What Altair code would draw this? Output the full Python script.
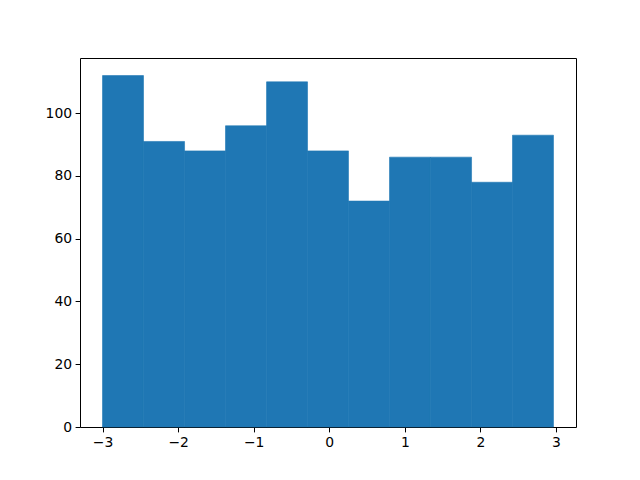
import altair as alt
import pandas as pd

bin_left = [-3.0, -2.458, -1.915, -1.373, -0.830, -0.288, 0.254, 0.797, 1.339, 1.882, 2.424]
bin_right = [-2.458, -1.915, -1.373, -0.830, -0.288, 0.254, 0.797, 1.339, 1.882, 2.424, 2.966]
counts = [112, 91, 88, 96, 110, 88, 72, 86, 86, 78, 93]

x_ticks = [-3, -2, -1, 0, 1, 2, 3]
y_ticks = [0, 20, 40, 60, 80, 100]

df = pd.DataFrame({"x": bin_left, "x2": bin_right, "count": counts})

font = "DejaVu Sans"

chart = alt.Chart(df).mark_rect(color="#1f77b4", stroke="#1f77b4", strokeWidth=0.6).encode(
    x=alt.X("x:Q",
            scale=alt.Scale(domain=[-3.298, 3.264], nice=False, zero=False),
            axis=alt.Axis(values=x_ticks, title=None, grid=False, domain=False,
                          tickColor="black", tickSize=4.9, tickWidth=1,
                          labelColor="black", labelFontSize=13.9, labelFont=font,
                          labelPadding=3.5, labelFlush=False, format="d")),
    x2="x2:Q",
    y=alt.Y("count:Q",
            scale=alt.Scale(domain=[0, 117.6], nice=False, zero=True),
            axis=alt.Axis(values=y_ticks, title=None, grid=False, domain=False,
                          tickColor="black", tickSize=4.9, tickWidth=1,
                          labelColor="black", labelFontSize=13.9, labelFont=font,
                          labelPadding=3.5, labelFlush=False, format="d")),
    y2=alt.datum(0),
).properties(
    width=496, height=369,
    background="white",
    autosize=alt.AutoSizeParams(type="none"),
    padding={"left": 72, "top": 50, "right": 56, "bottom": 45},
).configure_view(
    stroke="black", strokeWidth=1
)

chart.save("out.html", embed_options={"renderer": "svg", "actions": False})
